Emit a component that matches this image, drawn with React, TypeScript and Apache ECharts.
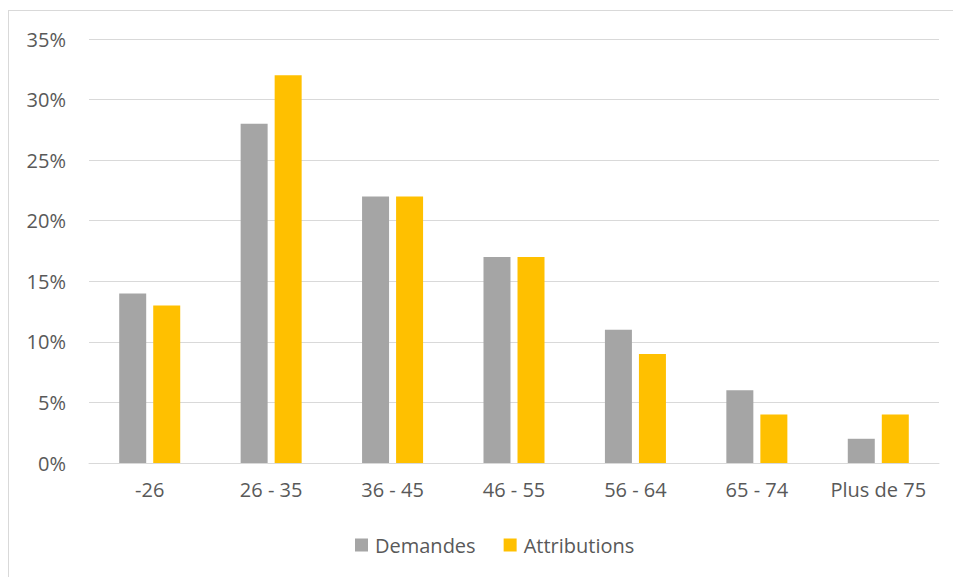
import React, { useEffect, useRef } from "react";
import * as echarts from "echarts";

const categories = ["-26", "26 - 35", "36 - 45", "46 - 55", "56 - 64", "65 - 74", "Plus de 75"];
const demandes = [14, 28, 22, 17, 11, 6, 2];
const attributions = [13, 32, 22, 17, 9, 4, 4];
const yTicks = [0, 5, 10, 15, 20, 25, 30, 35];

export default function App() {
  const ref = useRef<HTMLDivElement>(null);
  useEffect(() => {
    if (!ref.current) return;
    const chart = echarts.init(ref.current, undefined, { renderer: "svg" });
    const font = "'Open Sans', 'Noto Sans', sans-serif";
    chart.setOption({
      animation: false,
      textStyle: { fontFamily: font },
      grid: { left: 89, right: 14, top: 39, bottom: 114, containLabel: false },
      legend: {
        bottom: 17,
        left: 350,
        itemWidth: 13,
        itemHeight: 13,
        itemGap: 28,
        icon: "rect",
        textStyle: { color: "#595959", fontSize: 20, fontFamily: font, padding: [0, 0, 0, 2] },
        data: ["Demandes", "Attributions"],
      },
      xAxis: {
        type: "category",
        data: categories,
        axisLine: { lineStyle: { color: "#d9d9d9", width: 1 } },
        axisTick: { show: false },
        axisLabel: { color: "#595959", fontSize: 20, margin: 16, interval: 0, fontFamily: font },
      },
      yAxis: {
        type: "value",
        min: yTicks[0],
        max: yTicks[yTicks.length - 1],
        interval: 5,
        axisLine: { show: false },
        axisTick: { show: false },
        splitLine: { lineStyle: { color: "#d9d9d9", width: 1 } },
        axisLabel: { color: "#595959", fontSize: 20, margin: 23, formatter: "{value}%", fontFamily: font },
      },
      series: [
        {
          name: "Demandes",
          type: "bar",
          data: demandes,
          itemStyle: { color: "#a5a5a5" },
          barWidth: 27,
          barGap: "26%",
        },
        {
          name: "Attributions",
          type: "bar",
          data: attributions,
          itemStyle: { color: "#ffc000" },
          barWidth: 27,
          barGap: "26%",
        },
      ],
    });
    return () => chart.dispose();
  }, []);
  return (
    <div style={{ position: "absolute", left: 0, top: 0, width: 953, height: 577, background: "#fff", overflow: "hidden" }}>
      <div
        style={{
          position: "absolute",
          left: 8,
          top: 10,
          width: 960,
          height: 600,
          border: "1px solid #d9d9d9",
          boxSizing: "border-box",
        }}
      />
      <div ref={ref} style={{ position: "absolute", left: 0, top: 0, width: 953, height: 577 }} />
    </div>
  );
}
